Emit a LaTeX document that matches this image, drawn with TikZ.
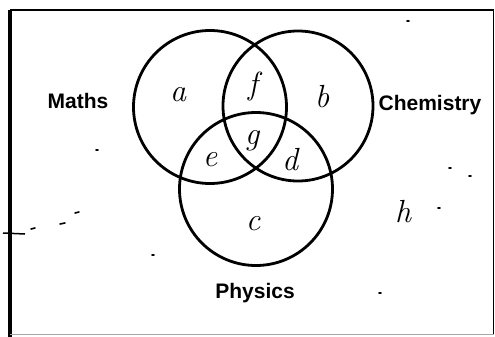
\documentclass[tikz,border=0pt]{standalone}
\usepackage{fontspec}
\setsansfont{Liberation Sans}
\begin{document}
\begin{tikzpicture}[x=1pt,y=-1pt,
  circ/.style={draw=black,line width=2.8pt},
  setlabel/.style={font=\sffamily\bfseries\fontsize{21}{21}\selectfont,inner sep=0pt},
  region/.style={font=\itshape\fontsize{32}{32}\selectfont,inner sep=0pt},
  speck/.style={line width=1.6pt,line cap=round}]
\useasboundingbox (0,0) rectangle (495,337);
\fill[white] (0,0) rectangle (495,337);
% frame
\draw[line width=3.2pt] (10,337) -- (10,10);
\draw[line width=2.4pt] (10,10) -- (494,10);
\draw[line width=1.6pt] (493.5,10) -- (493.5,334);
\draw[line width=0.8pt,black!35] (10,334.5) -- (493.5,334.5);
% circles
\node[circ,circle,minimum size=153pt,inner sep=0pt] (M) at (210,107) {};
\node[circ,circle,minimum size=150pt,inner sep=0pt] (C) at (298,106) {};
\node[circ,circle,minimum size=153pt,inner sep=0pt] (P) at (256,189) {};
% set labels
\node[setlabel] (lm) at (78,101) {Maths};
\node[setlabel] (lc) at (430,105) {Chemistry};
\node[setlabel] (lp) at (255,293) {Physics};
% region labels
\node[region] (ra) at (178,95) {a};
\node[region] (rf) at (253,86) {f};
\node[region] (rb) at (322,97) {b};
\node[region] (rg) at (252,141) {g};
\node[region] (re) at (210,160) {e};
\node[region] (rd) at (290,160) {d};
\node[region] (rc) at (253,224) {c};
\node[region] (rh) at (403,212) {h};
% specks
\draw[speck] (407,21) -- (409,21);
\draw[speck] (96,150) -- (98,150);
\draw[speck] (449,168) -- (451,168);
\draw[speck] (469,176) -- (471,176);
\draw[speck] (438,208) -- (440,208);
\draw[speck] (379,293) -- (381,293);
\draw[speck] (152,255) -- (154,255);
\draw[speck] (75,213) -- (79,212);
\draw[speck] (60,224) -- (65,223);
\draw[speck] (31,229) -- (35,228);
\draw[line width=1.5pt] (3,233) -- (25,234);
\end{tikzpicture}
\end{document}
